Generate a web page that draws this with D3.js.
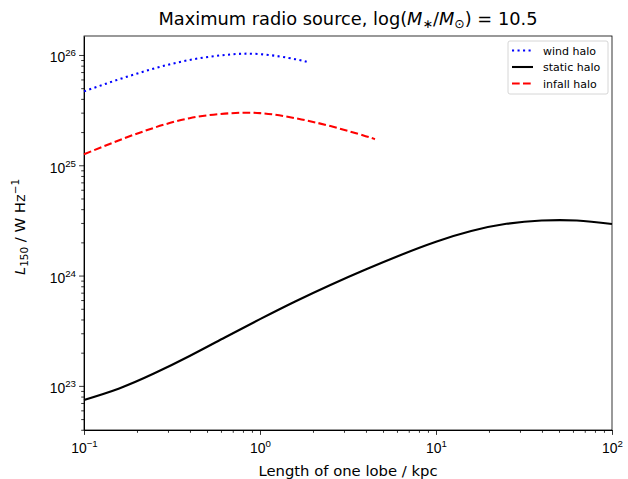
<!DOCTYPE html>
<html>
<head>
<meta charset="utf-8">
<script src="https://cdn.jsdelivr.net/npm/d3@7"></script>
<style>
  body { margin: 0; background: #fff; }
  svg { font-family: "DejaVu Sans", sans-serif; }
</style>
</head>
<body>
<div id="chart"></div>
<script>
// data (log10 of lobe length in kpc, log10 of L150 in W/Hz)
var windLogX = [-1, -0.8, -0.6, -0.4, -0.2, 0, 0.2, 0.27];
var windLogY = [25.670, 25.780, 25.878, 25.955, 26.000, 26.008, 25.962, 25.935];

var staticLogX = [-1, -0.8, -0.6, -0.4, -0.2, 0, 0.2, 0.4, 0.6, 0.8, 1.0, 1.2, 1.4, 1.6, 1.8, 2.0];
var staticLogY = [22.873, 22.977, 23.114, 23.271, 23.439, 23.605, 23.765, 23.915, 24.055, 24.187, 24.307, 24.404, 24.469, 24.499, 24.499, 24.468];

var infallLogX = [-1, -0.8, -0.6, -0.4, -0.2, 0, 0.2, 0.4, 0.6, 0.653];
var infallLogY = [25.1, 25.227, 25.341, 25.427, 25.468, 25.473, 25.427, 25.355, 25.264, 25.236];

var xMajor = [-1, 0, 1, 2];
var yMajor = [23, 24, 25, 26];
var legendNames = ["wind halo", "static halo", "infall halo"];

var W = 628, H = 479;
var margin = { top: 36, right: 16, bottom: 49, left: 84 },
    width = W - margin.left - margin.right,
    height = H - margin.top - margin.bottom;

var LW = 2.08;             // 1.5pt line
var DOT = "2.08,3.44";     // dotted
var DASH = "7.7,3.3";      // dashed

var svg = d3.select("#chart")
    .append("svg")
    .attr("width", W)
    .attr("height", H)
    .append("g")
    .attr("transform", "translate(" + margin.left + "," + margin.top + ")");

var x = d3.scaleLog()
    .domain([0.1, 100])
    .range([0, width]);

var y = d3.scaleLog()
    .domain([Math.pow(10, 22.6), Math.pow(10, 26.172)])
    .range([height, 0]);

// minor tick values
function minors(lo, hi) {
    var out = [];
    for (var e = lo; e < hi; e++) {
        for (var k = 2; k <= 9; k++) out.push(k * Math.pow(10, e));
    }
    return out;
}

// X axis
svg.append("g")
    .attr("transform", "translate(0," + height + ")")
    .call(d3.axisBottom(x).tickValues(minors(-1, 2)).tickSize(2.8).tickFormat(""))
    .call(function(g) { g.select(".domain").remove(); });
var xAx = svg.append("g")
    .attr("transform", "translate(0," + height + ")")
    .call(d3.axisBottom(x).tickValues(xMajor.map(function(e) { return Math.pow(10, e); }))
        .tickSize(4.9).tickSizeOuter(0).tickFormat(""));
xAx.selectAll(".tick text").remove();
xAx.selectAll(".tick").each(function(d) {
    var t = d3.select(this).append("text")
        .attr("y", 23)
        .attr("text-anchor", "middle")
        .attr("fill", "#000")
        .style("font-size", "13.9px");
    t.append("tspan").text("10");
    t.append("tspan").attr("dy", -6).style("font-size", "9.7px")
        .text(String(Math.round(Math.log10(d))).replace("-", "\u2212"));
});

// Y axis
svg.append("g")
    .call(d3.axisLeft(y).tickValues(minors(22, 26).filter(function(v) { return y.domain()[0] <= v && v <= y.domain()[1]; }))
        .tickSize(2.8).tickFormat(""))
    .call(function(g) { g.select(".domain").remove(); });
var yAx = svg.append("g")
    .call(d3.axisLeft(y).tickValues(yMajor.map(function(e) { return Math.pow(10, e); }))
        .tickSize(4.9).tickSizeOuter(0).tickFormat(""));
yAx.selectAll(".tick").each(function(d) {
    var t = d3.select(this).append("text")
        .attr("x", -8)
        .attr("y", 7)
        .attr("text-anchor", "end")
        .attr("fill", "#000")
        .style("font-size", "13.9px");
    t.append("tspan").text("10");
    t.append("tspan").attr("dy", -6).style("font-size", "9.7px")
        .text(String(Math.round(Math.log10(d))));
});

svg.selectAll(".domain").attr("stroke", "#000");
svg.selectAll(".tick line").attr("stroke", "#000").attr("stroke-width", 0.8);

// frame
svg.append("rect")
    .attr("width", width).attr("height", height)
    .attr("fill", "none").attr("stroke", "#000").attr("stroke-width", 0.8);

var line = d3.line()
    .x(function(d) { return x(Math.pow(10, d[0])); })
    .y(function(d) { return y(Math.pow(10, d[1])); })
    .curve(d3.curveNatural);

function zipXY(a, b) { return a.map(function(v, i) { return [v, b[i]]; }); }

svg.append("path")
    .datum(zipXY(windLogX, windLogY))
    .attr("d", line)
    .attr("fill", "none").attr("stroke", "blue").attr("stroke-width", LW)
    .attr("stroke-dasharray", DOT);

svg.append("path")
    .datum(zipXY(staticLogX, staticLogY))
    .attr("d", line)
    .attr("fill", "none").attr("stroke", "#000").attr("stroke-width", LW);

svg.append("path")
    .datum(zipXY(infallLogX, infallLogY))
    .attr("d", line)
    .attr("fill", "none").attr("stroke", "red").attr("stroke-width", LW)
    .attr("stroke-dasharray", DASH);

// title
var title = svg.append("text")
    .attr("x", width / 2)
    .attr("y", -11)
    .attr("text-anchor", "middle")
    .style("font-size", "17.8px");
title.append("tspan").text("Maximum radio source, log(");
title.append("tspan").style("font-style", "italic").text("M");
title.append("tspan").attr("dy", 3).style("font-size", "12.5px").text("\u2217");
title.append("tspan").attr("dy", -3).text("/");
title.append("tspan").style("font-style", "italic").text("M");
title.append("tspan").attr("dy", 3).style("font-size", "12.5px").text("\u2299");
title.append("tspan").attr("dy", -3).text(") = 10.5");

// axis labels
svg.append("text")
    .attr("x", width / 2)
    .attr("y", height + 46)
    .attr("text-anchor", "middle")
    .style("font-size", "14.8px")
    .text("Length of one lobe / kpc");

var yl = svg.append("text")
    .attr("transform", "translate(-59," + (height / 2 - 6) + ")rotate(-90)")
    .attr("text-anchor", "middle")
    .style("font-size", "14.8px");
yl.append("tspan").style("font-style", "italic").text("L");
yl.append("tspan").attr("dy", 3).style("font-size", "10.4px").text("150");
yl.append("tspan").attr("dy", -3).text(" / W Hz");
yl.append("tspan").attr("dy", -6).style("font-size", "10.4px").text("\u22121");

// legend
var lg = svg.append("g").attr("transform", "translate(" + (508 - margin.left) + "," + (41 - margin.top) + ")");
lg.append("rect")
    .attr("width", 100).attr("height", 53).attr("rx", 2)
    .attr("fill", "#fff").attr("stroke", "#ccc").attr("stroke-width", 0.8);
var styles = [
    { c: "blue", dash: DOT },
    { c: "#000", dash: null },
    { c: "red", dash: DASH }
];
legendNames.forEach(function(n, i) {
    var yy = 9.5 + i * 16.5;
    lg.append("line")
        .attr("x1", 4).attr("x2", 25).attr("y1", yy).attr("y2", yy)
        .attr("stroke", styles[i].c).attr("stroke-width", LW)
        .attr("stroke-dasharray", styles[i].dash);
    lg.append("text")
        .attr("x", 35).attr("y", yy + 4)
        .style("font-size", "11px")
        .text(n);
});
</script>
</body>
</html>
